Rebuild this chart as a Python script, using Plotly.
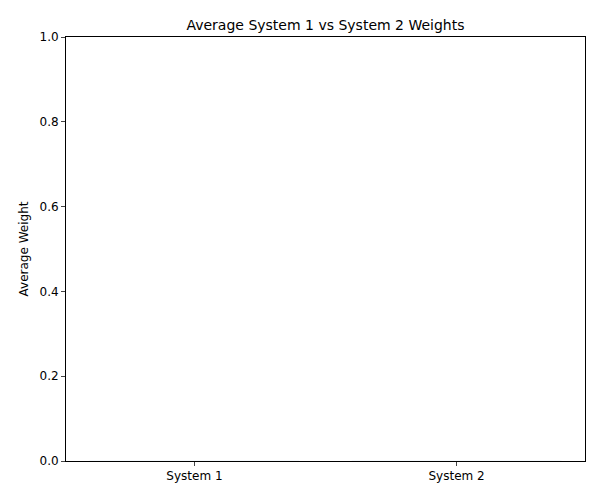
import plotly.graph_objects as go

categories = ["System 1", "System 2"]
weights = [0, 0]

fig = go.Figure(go.Bar(x=[0, 1], y=weights, width=0.8, marker_color="#1f77b4"))
fig.update_layout(
    width=600, height=500, plot_bgcolor="white", paper_bgcolor="white",
    margin=dict(l=58, r=23, t=29, b=47),
    font=dict(family="DejaVu Sans", size=12, color="black"),
    title=dict(text="Average System 1 vs System 2 Weights", x=(66 + 585) / 2 / 600 - 8 / 600,
               xanchor="center", y=1 - 17 / 500, yanchor="middle", font=dict(size=14)),
    showlegend=False,
)
fig.update_xaxes(range=[-0.49, 1.49], tickvals=[0, 1], ticktext=categories,
                 showline=True, linecolor="black", mirror=True, showgrid=False,
                 ticks="outside", ticklen=4, zeroline=False)
fig.update_yaxes(range=[0, 1], tickvals=[0, 0.2, 0.4, 0.6, 0.8, 1.0], tickformat=".1f",
                 title=dict(text="Average Weight", font=dict(size=12), standoff=8),
                 showline=True, linecolor="black", mirror=True, showgrid=False,
                 ticks="outside", ticklen=4, zeroline=False)
fig.write_html("out.html")
